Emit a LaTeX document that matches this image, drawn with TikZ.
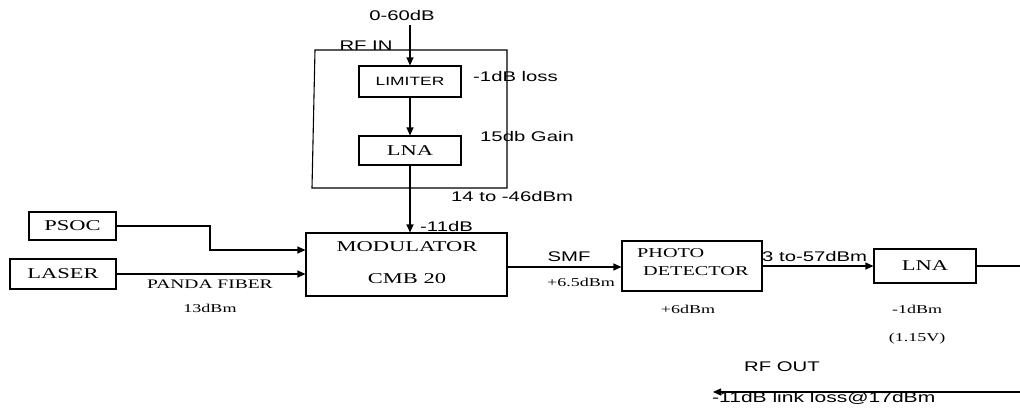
\documentclass[tikz,border=0pt]{standalone}
\usepackage{fontspec}
\usetikzlibrary{arrows.meta}
\newfontfamily\arl[FakeStretch=1.45]{Liberation Sans}
\newfontfamily\tms[FakeStretch=1.5]{Liberation Serif}
\tikzset{
  blk/.style={draw, line width=1.1pt, inner sep=0pt},
  con/.style={line width=1.1pt},
  arr/.style={con, -{Triangle[length=8pt,width=7pt]}},
  lblS/.style={inner sep=0pt, font=\arl\fontsize{14}{14}\selectfont},
  lblT/.style={inner sep=0pt, font=\tms\fontsize{12}{12}\selectfont},
}
\begin{document}
\begin{tikzpicture}[x=1pt,y=-1pt]
\useasboundingbox (0,0) rectangle (1020,408);
% RF IN group box
\node[lblS, anchor=center] (rfin) at (366,46) {RF IN};
\draw[con, fill=white] (315,50) -- (507,50) -- (507,188) -- (312,188) -- cycle;
\node[blk, minimum width=102pt, minimum height=31pt, font=\arl\fontsize{12}{12}\selectfont] (lim) at (410,81.5) {LIMITER};
\node[blk, minimum width=102pt, minimum height=29pt, font=\tms\fontsize{15}{15}\selectfont] (lna1) at (410,150.5) {LNA};
\node[lblS] (in) at (402,15) {0-60dB};
\node[lblS, anchor=west] (loss) at (473,76) {-1dB loss};
\node[lblS, anchor=west] (gain) at (480,136) {15db Gain};
\node[lblS, anchor=west] (l14) at (451,196) {14 to -46dBm};
\node[lblS, anchor=west] (l11) at (420,226) {-11dB};
% modulator
\node[blk, minimum width=201pt, minimum height=63pt] (mod) at (406.5,264.5) {};
\node[inner sep=0pt, font=\tms\fontsize{15}{15}\selectfont] (modt1) at (407,247) {MODULATOR};
\node[inner sep=0pt, font=\tms\fontsize{15}{15}\selectfont] (modt2) at (407,279) {CMB 20};
% left blocks
\node[blk, minimum width=87pt, minimum height=28pt, font=\tms\fontsize{15}{15}\selectfont] (psoc) at (72.5,226) {PSOC};
\node[blk, minimum width=106pt, minimum height=30pt, font=\tms\fontsize{15}{15}\selectfont] (laser) at (63,274) {LASER};
\node[lblT, font=\tms\fontsize{13}{13}\selectfont] (panda) at (210,284) {PANDA FIBER};
\node[lblT] (l13) at (210,308) {13dBm};
% photodetector
\node[blk, minimum width=140pt, minimum height=50pt] (pd) at (692,266) {};
\node[inner sep=0pt, anchor=west, font=\tms\fontsize{13.5}{13.5}\selectfont] (pdt1) at (637,253) {PHOTO};
\node[inner sep=0pt, anchor=west, font=\tms\fontsize{13.5}{13.5}\selectfont] (pdt2) at (643,271) {DETECTOR};
\node[lblS] (smf) at (569,257) {SMF};
\node[lblT, anchor=west] (l65) at (547,282) {+6.5dBm};
\node[lblT] (l6) at (688,309) {+6dBm};
\node[lblS, anchor=west] (l3) at (762,256) {3 to-57dBm};
% LNA 2
\node[blk, minimum width=102pt, minimum height=34pt, font=\tms\fontsize{15}{15}\selectfont] (lna2) at (925,266) {LNA};
\node[lblT] (l1) at (917,309) {-1dBm};
\node[lblT] (lv) at (917,339) {(1.15V)};
\node[lblS] (rfout) at (782,367) {RF OUT};
\node[lblS, anchor=west, font=\arl\fontsize{14.5}{14.5}\selectfont] (link) at (712,398) {-11dB link loss@17dBm};
\coordinate (intop) at (410,25);
\coordinate (edge1) at (1020,266);
\coordinate (edge2) at (1020,392);
\coordinate (outend) at (713,392);
\coordinate (psocbend) at (210,226);
% connectors
\draw[arr] (intop) -- (lim.north);
\draw[arr] (lim) -- (lna1);
\draw[arr] (lna1) -- (mod.north -| lna1.south);
\draw[arr] (psoc.east) -- (psocbend) |- ([yshift=14.5pt]mod.west);
\draw[arr] (laser.east) -- (laser.east -| mod.west);
\draw[arr] ([yshift=-2.5pt]mod.east) -- ([yshift=-2.5pt]mod.east -| pd.west);
\draw[arr] (pd.east) -- (pd.east -| lna2.west);
\draw[con] (lna2.east) -- (edge1);
\draw[arr] (edge2) -- (outend);
\end{tikzpicture}
\end{document}
